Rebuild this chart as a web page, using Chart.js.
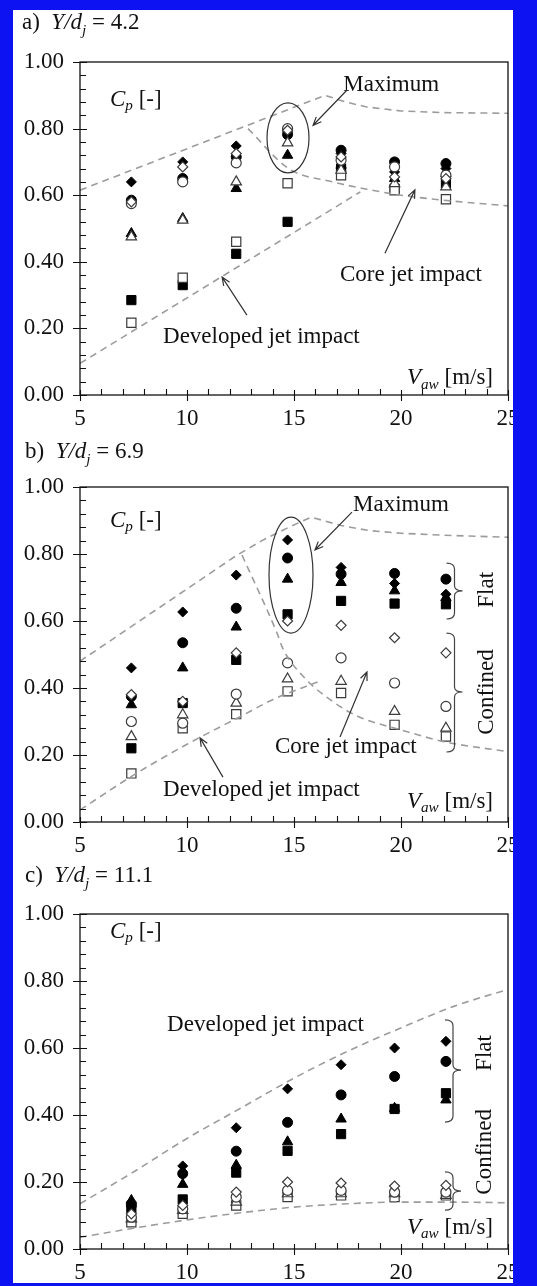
<!DOCTYPE html>
<html>
<head>
<meta charset="utf-8">
<script src="https://cdn.jsdelivr.net/npm/chart.js@4.4.1/dist/chart.umd.min.js"></script>
<style>
   html, body { margin: 0; padding: 0; background: #0c12f2; }
   #frame { position: absolute; left: 13px; top: 10px; width: 500px; height: 1273px;
            background: #fff; overflow: hidden; }
   #frame canvas { position: absolute; left: -13px; }
</style>
</head>
<body>
<div id="frame">
   <canvas id="panelA" width="537" height="430" style="top:-10px"></canvas>
   <canvas id="panelB" width="537" height="432" style="top:415px"></canvas>
   <canvas id="panelC" width="537" height="432" style="top:842px"></canvas>
</div>
<script>

/* air velocity V_aw [m/s] of the measurement columns */
const speeds = [7.4, 9.8, 12.3, 14.7, 17.2, 19.7, 22.1];

/* a) Y/dj = 4.2 : Cp per configuration */
const aFillDiamond = [0.640, 0.700, 0.748, 0.790, 0.725, 0.670, 0.680];
const aFillCircle  = [0.585, 0.650, 0.715, 0.782, 0.735, 0.700, 0.695];
const aFillTri     = [0.485, 0.530, 0.620, 0.720, 0.690, 0.650, 0.665];
const aFillSquare  = [0.285, 0.330, 0.424, 0.520, 0.680, 0.620, 0.635];
const aOpenDiamond = [0.580, 0.685, 0.725, 0.795, 0.715, 0.655, 0.650];
const aOpenCircle  = [0.575, 0.640, 0.697, 0.800, 0.705, 0.685, 0.660];
const aOpenTri     = [0.475, 0.525, 0.640, 0.757, 0.675, 0.635, 0.625];
const aOpenSquare  = [0.217, 0.352, 0.460, 0.636, 0.660, 0.615, 0.588];

/* b) Y/dj = 6.9 */
const bFillDiamond = [0.460, 0.627, 0.737, 0.842, 0.760, 0.712, 0.680];
const bFillCircle  = [0.375, 0.535, 0.638, 0.788, 0.740, 0.742, 0.725];
const bFillTri     = [0.350, 0.460, 0.582, 0.725, 0.715, 0.690, 0.670];
const bFillSquare  = [0.220, 0.355, 0.484, 0.620, 0.660, 0.652, 0.650];
const bOpenDiamond = [0.380, 0.360, 0.505, 0.600, 0.587, 0.550, 0.505];
const bOpenCircle  = [0.300, 0.295, 0.382, 0.475, 0.490, 0.415, 0.345];
const bOpenTri     = [0.255, 0.320, 0.355, 0.427, 0.420, 0.330, 0.280];
const bOpenSquare  = [0.145, 0.280, 0.322, 0.390, 0.385, 0.290, 0.255];

/* c) Y/dj = 11.1 */
const cFillDiamond = [0.140, 0.248, 0.362, 0.478, 0.550, 0.600, 0.620];
const cFillCircle  = [0.130, 0.225, 0.292, 0.378, 0.460, 0.515, 0.560];
const cFillTri     = [0.145, 0.193, 0.250, 0.320, 0.388, 0.420, 0.445];
const cFillSquare  = [0.120, 0.148, 0.228, 0.293, 0.343, 0.418, 0.465];
const cOpenDiamond = [0.105, 0.130, 0.170, 0.200, 0.197, 0.188, 0.190];
const cOpenCircle  = [0.095, 0.120, 0.155, 0.175, 0.175, 0.170, 0.170];
const cOpenTri     = [0.090, 0.115, 0.140, 0.165, 0.165, 0.165, 0.160];
const cOpenSquare  = [0.080, 0.105, 0.130, 0.155, 0.160, 0.155, 0.160];

/* dashed guide curves (V, Cp) */
const aUpperV   = [5, 16.45, 17.4, 18.4, 20, 22, 25];
const aUpperCp  = [0.615, 0.900, 0.880, 0.865, 0.853, 0.848, 0.846];
const aCoreV    = [12.85, 14.75, 16.8, 18.4, 20, 22, 25];
const aCoreCp   = [0.800, 0.680, 0.640, 0.618, 0.600, 0.585, 0.568];
const aDevV     = [5, 18.1];
const aDevCp    = [0.095, 0.610];

const bUpperV   = [5, 12.3, 13.5, 14.7, 15.8, 17.2, 18.5, 20, 22, 25];
const bUpperCp  = [0.480, 0.795, 0.840, 0.878, 0.910, 0.885, 0.870, 0.862, 0.856, 0.850];
const bCoreV    = [12.57, 14.2, 14.5, 15.5, 16.8, 18, 20, 22, 25];
const bCoreCp   = [0.797, 0.565, 0.515, 0.430, 0.360, 0.315, 0.275, 0.240, 0.210];
const bDevV     = [5, 7.5, 10, 12.5, 14, 16.1];
const bDevCp    = [0.036, 0.140, 0.232, 0.315, 0.365, 0.418];

const cUpperV   = [5, 7.5, 10, 12.5, 15, 17.5, 20, 22.5, 25];
const cUpperCp  = [0.135, 0.230, 0.330, 0.420, 0.510, 0.590, 0.660, 0.725, 0.775];
const cLowerV   = [5, 7.5, 10, 12.5, 15, 17.5, 20, 22.5, 25];
const cLowerCp  = [0.035, 0.062, 0.087, 0.108, 0.125, 0.135, 0.140, 0.140, 0.138];

const yTicks = [0, 0.2, 0.4, 0.6, 0.8, 1.0];
const xTicks = [5, 10, 15, 20, 25];

/* - - */
const SERIF = '"Liberation Serif", "Times New Roman", serif';
const FS = 23;

/* open markers first so the filled ones sit on top */
function markerSets(od, oc, ot, os, fd, fc, ft, fs) {
   return [
      [od, 'rectRot', false, 5], [oc, 'circle', false, 5],
      [ot, 'triangle', false, 6], [os, 'rect', false, 6.5],
      [fd, 'rectRot', true, 5], [fc, 'circle', true, 5],
      [ft, 'triangle', true, 6], [fs, 'rect', true, 6.5]
   ];
}

function richText(ctx, x, y, parts, size, dry) {
   let cx = x;
   for (let [t, st] of parts) {
      let italic = st.indexOf('i') === 0;
      let sub = st.indexOf('sub') >= 0;
      let fs = sub ? size * 0.66 : size;
      ctx.font = (italic ? 'italic ' : '') + fs + 'px ' + SERIF;
      if (!dry)
         ctx.fillText(t, cx, sub ? y + size * 0.27 : y);
      cx += ctx.measureText(t).width;
   }
   return cx - x;
}

function arrow(ctx, x0, y0, x1, y1) {
   ctx.beginPath();
   ctx.moveTo(x0, y0);
   ctx.lineTo(x1, y1);
   let a = Math.atan2(y1 - y0, x1 - x0), L = 9, w = 0.4;
   ctx.moveTo(x1 - L * Math.cos(a - w), y1 - L * Math.sin(a - w));
   ctx.lineTo(x1, y1);
   ctx.lineTo(x1 - L * Math.cos(a + w), y1 - L * Math.sin(a + w));
   ctx.stroke();
}

function brace(ctx, x, yTop, yBot, yMid) {
   ctx.beginPath();
   ctx.moveTo(x - 8, yTop);
   ctx.quadraticCurveTo(x, yTop, x, yTop + 6);
   ctx.lineTo(x, yMid - 5);
   ctx.quadraticCurveTo(x, yMid, x + 8, yMid);
   ctx.quadraticCurveTo(x, yMid, x, yMid + 5);
   ctx.lineTo(x, yBot - 6);
   ctx.quadraticCurveTo(x, yBot, x - 8, yBot);
   ctx.stroke();
}

function makeNotes(notes) {
   return {
      id: 'notes',
      afterDraw(chart) {
         let ctx = chart.ctx, sx = chart.scales.x, sy = chart.scales.y, area = chart.chartArea;
         let P = (v, c) => [sx.getPixelForValue(v), sy.getPixelForValue(c)];
         ctx.save();
         /* frame */
         ctx.strokeStyle = '#111';
         ctx.lineWidth = 1.3;
         ctx.strokeRect(area.left, area.top, area.right - area.left, area.bottom - area.top);
         /* ticks */
         ctx.lineWidth = 1.1;
         ctx.beginPath();
         for (let v = 0; v <= 1.0001; v += 0.04) {
            let y = Math.round(sy.getPixelForValue(v)) + 0.5;
            let major = Math.abs(v * 5 - Math.round(v * 5)) < 1e-6;
            ctx.moveTo(area.left - (major ? 7 : 0), y);
            ctx.lineTo(area.left + (major ? 7 : 6), y);
         }
         for (let v = 5; v <= 25; v += 1) {
            let x = Math.round(sx.getPixelForValue(v)) + 0.5;
            let major = v % 5 === 0;
            ctx.moveTo(x, area.bottom + (major ? 6 : 0));
            ctx.lineTo(x, area.bottom - (major ? 5 : 6));
         }
         ctx.stroke();
         /* texts */
         ctx.fillStyle = '#111';
         ctx.textAlign = 'left';
         ctx.textBaseline = 'alphabetic';
         let [lbl, val, tx, ty] = notes.title;
         richText(ctx, tx, area.top + ty,
            [[lbl + '  ', ''], ['Y/d', 'i'], ['j', 'isub'], [' = ' + val, '']], FS);
         ctx.textBaseline = 'middle';
         let [cx, cy] = P(notes.cp[0], notes.cp[1]);
         richText(ctx, cx, cy, [['C', 'i'], ['p', 'isub'], [' [-]', '']], FS);
         let vParts = [['V', 'i'], ['aw', 'isub'], [' [m/s]', '']];
         let [vx, vy] = P(notes.vaw[0], notes.vaw[1]);
         let vw = richText(ctx, 0, 0, vParts, FS, true);
         richText(ctx, vx - vw, vy, vParts, FS);
         ctx.font = FS + 'px ' + SERIF;
         for (let [t, v, c] of notes.texts) {
            let [x, y] = P(v, c);
            ctx.fillText(t, x, y);
         }
         ctx.textAlign = 'center';
         for (let [t, v, c] of (notes.vtexts || [])) {
            let [x, y] = P(v, c);
            ctx.save();
            ctx.translate(x, y);
            ctx.rotate(-Math.PI / 2);
            ctx.fillText(t, 0, 0);
            ctx.restore();
         }
         /* arrows, ellipse, braces */
         ctx.strokeStyle = '#333';
         ctx.lineWidth = 1.2;
         for (let [v0, c0, v1, c1] of (notes.arrows || [])) {
            let [x0, y0] = P(v0, c0), [x1, y1] = P(v1, c1);
            arrow(ctx, x0, y0, x1, y1);
         }
         if (notes.ellipse) {
            let [ev, ec, rx, ry] = notes.ellipse;
            let [ex, ey] = P(ev, ec);
            ctx.beginPath();
            ctx.ellipse(ex, ey, rx, ry, 0, 0, Math.PI * 2);
            ctx.stroke();
         }
         ctx.strokeStyle = '#444';
         for (let [v, cTop, cBot, cMid] of (notes.braces || [])) {
            let x = sx.getPixelForValue(v);
            brace(ctx, x, sy.getPixelForValue(cTop), sy.getPixelForValue(cBot), sy.getPixelForValue(cMid));
         }
         ctx.restore();
      }
   };
}

function makePanel(canvasId, marks, curves, notes) {
   let datasets = [];
   for (let [vs, cps, smooth] of curves) {
      datasets.push({
         type: 'line',
         data: vs.map((v, i) => ({x: v, y: cps[i]})),
         borderColor: '#9c9c9c',
         borderWidth: 1.6,
         borderDash: [7, 5],
         pointRadius: 0,
         fill: false,
         tension: 0,
         cubicInterpolationMode: smooth ? 'monotone' : 'default'
      });
   }
   for (let [vals, style, filled, r] of marks) {
      datasets.push({
         type: 'scatter',
         data: speeds.map((v, i) => ({x: v, y: vals[i]})),
         pointStyle: style,
         pointRadius: r,
         pointBackgroundColor: filled ? '#000' : '#fff',
         pointBorderColor: filled ? '#000' : '#3a3a3a',
         pointBorderWidth: filled ? 1 : 1.2
      });
   }
   /* - - */
   let tickFont = {family: SERIF, size: FS};
   let conf = {
      data: {datasets: datasets},
      options: {
         responsive: false,
         animation: false,
         events: [],
         layout: {padding: {top: 62, right: 29, bottom: 0, left: 0}},
         plugins: {legend: {display: false}, tooltip: {enabled: false}},
         scales: {
            x: {
               type: 'linear', min: 5, max: 25,
               afterBuildTicks: s => { s.ticks = xTicks.map(v => ({value: v})); },
               ticks: {font: tickFont, color: '#111', padding: 10, maxRotation: 0},
               grid: {display: false, drawTicks: false},
               border: {display: false},
               afterFit: s => { s.height = 35; }
            },
            y: {
               type: 'linear', min: 0, max: 1,
               afterBuildTicks: s => { s.ticks = yTicks.map(v => ({value: v})); },
               ticks: {font: tickFont, color: '#111', padding: 16, callback: v => v.toFixed(2)},
               grid: {display: false, drawTicks: false},
               border: {display: false},
               afterFit: s => { s.width = 80; }
            }
         }
      },
      plugins: [makeNotes(notes)]
   };
   return new Chart(document.getElementById(canvasId), conf);
}

/* - - */
makePanel('panelA',
   markerSets(aOpenDiamond, aOpenCircle, aOpenTri, aOpenSquare, aFillDiamond, aFillCircle, aFillTri, aFillSquare),
   [[aUpperV, aUpperCp, false], [aCoreV, aCoreCp, true], [aDevV, aDevCp, false]],
   {
      title: ['a)', '4.2', 22, -33],
      cp: [6.4, 0.886],
      vaw: [24.3, 0.05],
      texts: [['Maximum', 17.3, 0.93], ['Core jet impact', 17.15, 0.36], ['Developed jet impact', 8.88, 0.174]],
      arrows: [[17.48, 0.916, 15.89, 0.81], [19.25, 0.426, 20.65, 0.616], [12.8, 0.24, 11.64, 0.354]],
      ellipse: [14.72, 0.772, 21, 35]
   });

makePanel('panelB',
   markerSets(bOpenDiamond, bOpenCircle, bOpenTri, bOpenSquare, bFillDiamond, bFillCircle, bFillTri, bFillSquare),
   [[bUpperV, bUpperCp, false], [bCoreV, bCoreCp, true], [bDevV, bDevCp, true]],
   {
      title: ['b)', '6.9', 25, -29],
      cp: [6.4, 0.90],
      vaw: [24.3, 0.06],
      texts: [['Maximum', 17.76, 0.946], ['Core jet impact', 14.11, 0.224], ['Developed jet impact', 8.88, 0.096]],
      arrows: [[17.71, 0.925, 15.98, 0.812], [17.15, 0.254, 18.41, 0.448], [11.68, 0.134, 10.61, 0.251]],
      ellipse: [14.86, 0.737, 22, 58],
      braces: [[22.5, 0.773, 0.606, 0.69], [22.5, 0.564, 0.209, 0.388]],
      vtexts: [['Flat', 24.0, 0.693], ['Confined', 24.0, 0.388]]
   });

makePanel('panelC',
   markerSets(cOpenDiamond, cOpenCircle, cOpenTri, cOpenSquare, cFillDiamond, cFillCircle, cFillTri, cFillSquare),
   [[cUpperV, cUpperCp, true], [cLowerV, cLowerCp, true]],
   {
      title: ['c)', '11.1', 25, -32],
      cp: [6.4, 0.946],
      vaw: [24.3, 0.063],
      texts: [['Developed jet impact', 9.07, 0.669]],
      braces: [[22.43, 0.684, 0.379, 0.534], [22.43, 0.23, 0.116, 0.173]],
      vtexts: [['Flat', 23.9, 0.585], ['Confined', 23.9, 0.29]]
   });

</script>
</body>
</html>
